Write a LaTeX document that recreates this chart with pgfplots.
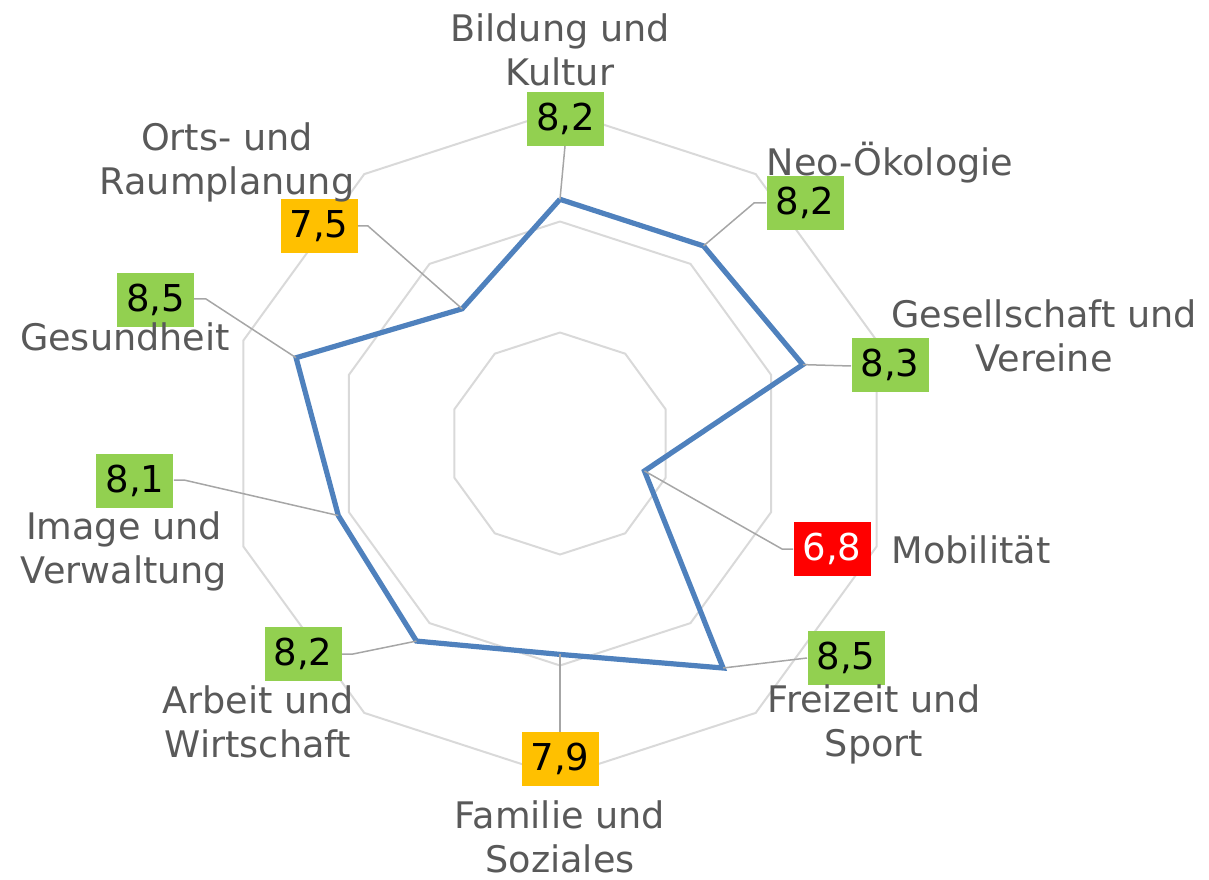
\documentclass[border=0pt]{standalone}
\usepackage{fontspec}
\setmainfont{DejaVu Sans}
\usepackage{pgfplots}
\pgfplotsset{compat=1.18}
\usepackage{pgfplotstable}
\usepgfplotslibrary{polar}
\definecolor{gridc}{HTML}{D9D9D9}
\definecolor{bluec}{HTML}{4F81BD}
\definecolor{greenc}{HTML}{92D050}
\definecolor{orangec}{HTML}{FFC000}
\definecolor{redc}{HTML}{FF0000}
\definecolor{textc}{HTML}{595959}
\definecolor{leadc}{HTML}{A6A6A6}
% angle (deg), value
\pgfplotstableread{
angle value
90  8.2
54  8.2
18  8.3
342 6.8
306 8.5
270 7.9
234 8.2
198 8.1
162 8.5
126 7.5
90  8.2
}\datatab
\begin{document}
\begin{tikzpicture}
\begin{polaraxis}[hide axis, scale only axis, width=333pt, height=333pt,
  xmin=0, xmax=360, ymin=0, ymax=3, clip=false]
\foreach \r in {1,2,3}{
\edef\tmp{\noexpand\addplot[gridc, line width=1pt] coordinates {(90,\r)(54,\r)(18,\r)(342,\r)(306,\r)(270,\r)(234,\r)(198,\r)(162,\r)(126,\r)(90,\r)};}
\tmp
}
\addplot[bluec, line width=2.6pt, line join=miter] table[x=angle, y expr=\thisrow{value}-6] {\datatab};
\coordinate (c) at (axis cs:0,0);
\coordinate (d0) at (axis cs:90,2.2);
\coordinate (d1) at (axis cs:54,2.2);
\coordinate (d2) at (axis cs:18,2.3);
\coordinate (d3) at (axis cs:342,0.8);
\coordinate (d4) at (axis cs:306,2.5);
\coordinate (d5) at (axis cs:270,1.9);
\coordinate (d6) at (axis cs:234,2.2);
\coordinate (d7) at (axis cs:198,2.1);
\coordinate (d8) at (axis cs:162,2.5);
\coordinate (d9) at (axis cs:126,1.5);
\end{polaraxis}
\path (c) ++(-280pt,221.75pt) coordinate (tl);
\path (tl) ++(604.5pt,-439.5pt) coordinate (br);
\begin{scope}[shift={(tl)}, x=0.5pt, y=-0.5pt]
\tikzset{lead/.style={leadc, line width=0.75pt},
  box/.style={minimum width=38.5pt, minimum height=27pt, inner sep=0pt, font=\fontsize{18.5}{22}\selectfont},
  cat/.style={align=center, text=textc, inner sep=0.5pt, font=\fontsize{18.3}{22}\selectfont}}
% leader lines
\draw[lead] (d0) -- (565,146);
\draw[lead] (d1) -- (754,203) -- (766,203);
\draw[lead] (d2) -- (851,366);
\draw[lead] (d3) -- (782,549) -- (793,549);
\draw[lead] (d4) -- (807,658);
\draw[lead] (d5) -- (560,732);
\draw[lead] (d6) -- (353,654) -- (342,654);
\draw[lead] (d7) -- (184,480) -- (174,480);
\draw[lead] (d8) -- (206,299) -- (194,299);
\draw[lead] (d9) -- (368,226) -- (358,226);
% value boxes
\node[box, fill=greenc] at (565.5,119) {8,2};
\node[box, fill=greenc] at (805,203) {8,2};
\node[box, fill=greenc] at (890,365) {8,3};
\node[box, fill=redc, text=white] at (832,548.5) {6,8};
\node[box, fill=greenc] at (846,658) {8,5};
\node[box, fill=orangec] at (560,759) {7,9};
\node[box, fill=greenc] at (303,654) {8,2};
\node[box, fill=greenc] at (135,481) {8,1};
\node[box, fill=greenc] at (155.5,300) {8,5};
\node[box, fill=orangec] at (319,226) {7,5};
% category labels
\node[cat] at (560,50) {Bildung und\\Kultur};
\node[cat] at (890,163) {Neo-Ökologie};
\node[cat] at (1044,336) {Gesellschaft und\\Vereine};
\node[cat] at (971,550) {Mobilität};
\node[cat] at (874,724) {Freizeit und\\Sport};
\node[cat] at (560,837) {Familie und\\Soziales};
\node[cat] at (258,722) {Arbeit und\\Wirtschaft};
\node[cat] at (124,551) {Image und\\Verwaltung};
\node[cat] at (125,337) {Gesundheit};
\node[cat] at (227,162) {Orts- und\\Raumplanung};
\end{scope}
\pgfresetboundingbox
\path[use as bounding box] (tl) rectangle (br);
\end{tikzpicture}
\end{document}
